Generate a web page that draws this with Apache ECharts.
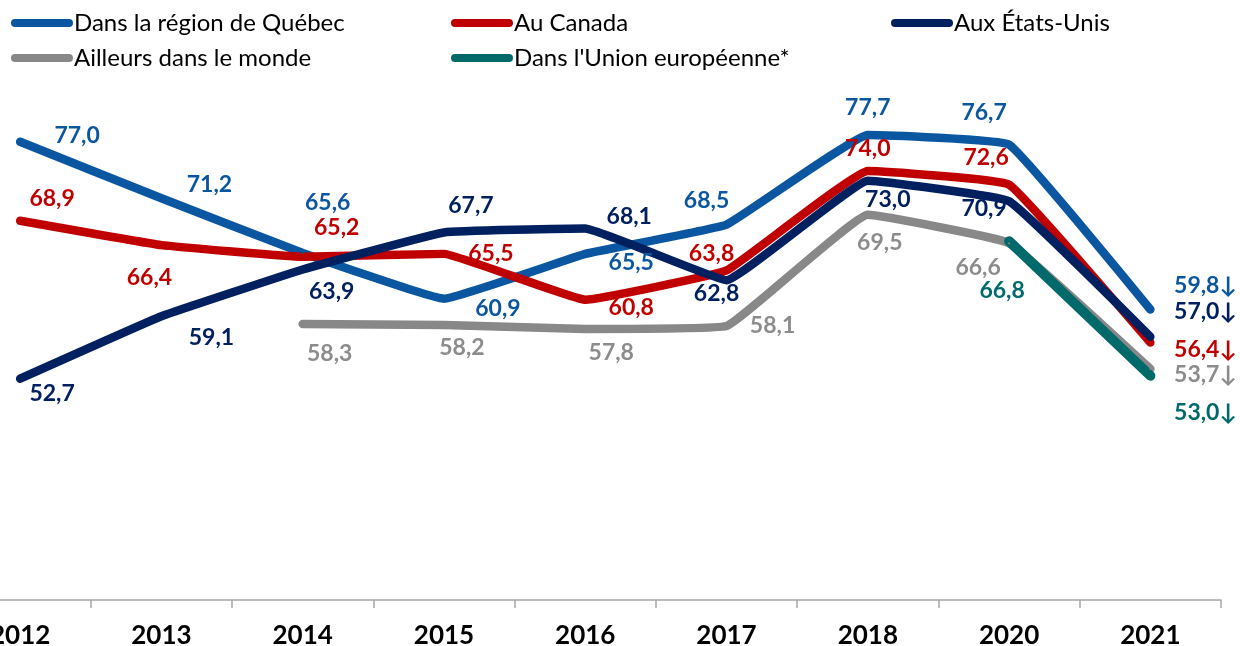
<!DOCTYPE html>
<html>
<head>
<meta charset="utf-8">
<script src="https://cdn.jsdelivr.net/npm/echarts@6/dist/echarts.min.js"></script>
<style>
  html, body { margin: 0; padding: 0; background: #fff; }
  #main { width: 1240px; height: 646px; }
</style>
</head>
<body>
<div id="main"></div>
<script>
// données
var years = ['2012', '2013', '2014', '2015', '2016', '2017', '2018', '2020', '2021'];
var quebec = [77.0, 71.2, 65.6, 60.9, 65.5, 68.5, 77.7, 76.7, 59.8];
var canada = [68.9, 66.4, 65.2, 65.5, 60.8, 63.8, 74.0, 72.6, 56.4];
var usa = [52.7, 59.1, 63.9, 67.7, 68.1, 62.8, 73.0, 70.9, 57.0];
var ailleurs = [null, null, 58.3, 58.2, 57.8, 58.1, 69.5, 66.6, 53.7];
var europe = [null, null, null, null, null, null, null, 66.8, 53.0];

// décalage des étiquettes (px) par point
var offQc = [[57, -6], [48, -14], [25, -50], [54, 10], [46, 9], [-20, -24], [0, -27], [-25, -32], [55, -24]];
var offCa = [[32, -22], [-12, 32], [34, -29], [47, 0], [46, 8], [-15, -17], [0, -22], [-23, -27], [55, 7]];
var offUs = [[32, 15], [50, 21], [29, 22], [27, -27], [44, -12], [-10, 13], [20, 19], [-25, 7], [55, -25]];
var offAi = [null, null, [27, 30], [18, 23], [26, 24], [46, 0], [12, 28], [-31, 24], [55, 6]];
var offEu = [null, null, null, null, null, null, null, [-7, 49], [55, 37]];

var FONT = 'Lato';

function fmt(v, last) {
    var s = v.toFixed(1).replace('.', ',');
    return last ? s + '↓' : s;
}

function buildData(vals, offs) {
    return vals.map(function (v, i) {
        if (v === null) return null;
        return {
            value: v,
            label: { offset: offs[i] }
        };
    });
}

function serie(name, vals, offs, color, labelColor, width) {
    return {
        name: name,
        type: 'line',
        data: buildData(vals, offs),
        symbol: 'circle',
        symbolSize: 2,
        showAllSymbol: true,
        smooth: 0.08,
        itemStyle: { color: color },
        lineStyle: { color: color, width: width || 8.5, cap: 'round', join: 'round' },
        label: {
            show: true,
            position: 'inside',
            align: 'center',
            verticalAlign: 'middle',
            color: labelColor || color,
            fontFamily: FONT,
            fontWeight: 'bold',
            fontSize: 23,
            formatter: function (p) {
                return fmt(p.value, p.dataIndex === years.length - 1);
            }
        },
        emphasis: { disabled: true },
        animation: false
    };
}

var legendIcon = 'path://M4,0 L58,0 A4,4 0 0 1 58,8 L4,8 A4,4 0 0 1 4,0 Z';
function legend(left, names) {
    return {
        left: left,
        top: 10,
        padding: 0,
        orient: 'vertical',
        itemWidth: 62,
        itemHeight: 8,
        itemGap: 9,
        icon: legendIcon,
        selectedMode: false,
        data: names,
        textStyle: { fontFamily: FONT, fontSize: 24, color: '#000', lineHeight: 26, padding: [0, 0, 0, -4] }
    };
}

var myChart = echarts.init(document.getElementById('main'));
var option = {
    backgroundColor: '#fff',
    animation: false,
    legend: [
        legend(11, ['Dans la région de Québec', 'Ailleurs dans le monde']),
        legend(451, ['Au Canada', "Dans l'Union européenne*"]),
        legend(891, ['Aux États-Unis'])
    ],
    grid: { left: -50.5, right: 19, top: 112.5, bottom: 46, outerBoundsMode: 'none' },
    xAxis: {
        type: 'category',
        data: years,
        boundaryGap: true,
        axisLine: { lineStyle: { color: '#A6A6A6', width: 1.5 } },
        axisTick: { show: true, length: 8, lineStyle: { color: '#A6A6A6', width: 1.5 } },
        axisLabel: { color: '#000', fontFamily: FONT, fontWeight: 'bold', fontSize: 26, margin: 23 }
    },
    yAxis: {
        type: 'value',
        min: 30,
        max: 80,
        show: false,
        splitLine: { show: false }
    },
    series: [
        serie('Dans la région de Québec', quebec, offQc, '#0B56A0'),
        serie('Au Canada', canada, offCa, '#C00000'),
        serie('Aux États-Unis', usa, offUs, '#002060'),
        serie('Ailleurs dans le monde', ailleurs, offAi, '#888888', '#8C8C8C'),
        serie("Dans l'Union européenne*", europe, offEu, '#006A6A', null, 10)
    ]
};
myChart.setOption(option);
</script>
</body>
</html>
